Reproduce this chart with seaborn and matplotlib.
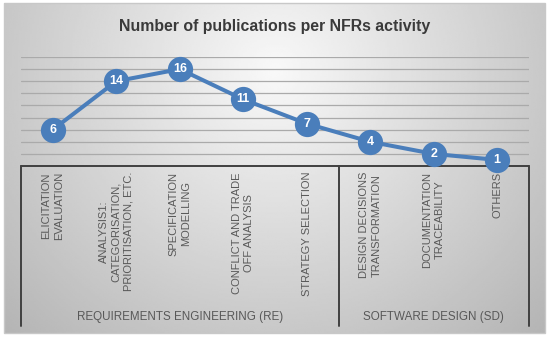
import numpy as np
import pandas as pd
import matplotlib.pyplot as plt
import seaborn as sns
from matplotlib.patches import Rectangle

# chart data
activities = [
    "ELICITATION\nEVALUATION",
    "ANALYSIS1:\nCATEGORISATION,\nPRIORITISATION, ETC.",
    "SPECIFICATION\nMODELLING",
    "CONFLICT AND TRADE\nOFF ANALYSIS",
    "STRATEGY SELECTION",
    "DESIGN DECISIONS\nTRANSFORMATION",
    "DOCUMENTATION\nTRACEABILITY",
    "OTHERS",
]
publications = [6, 14, 16, 11, 7, 4, 2, 1]
group_names = ["REQUIREMENTS ENGINEERING (RE)", "SOFTWARE DESIGN (SD)"]
group_sizes = [5, 3]
y_ticks = [2, 4, 6, 8, 10, 12, 14, 16, 18]

W, H = 550, 341
sns.set_theme(style="white")
plt.rcParams['font.family'] = ['Liberation Sans', 'DejaVu Sans']

fig = plt.figure(figsize=(W / 100, H / 100), dpi=100)

# background panel with radial grey gradient
bg = fig.add_axes([0, 0, 1, 1], zorder=-10)
bg.set_xlim(0, W)
bg.set_ylim(H, 0)
bg.axis("off")
x0, x1, y0, y1 = 4, 545, 3, 333
gx, gy = np.meshgrid(np.linspace(x0, x1, 300), np.linspace(y0, y1, 200))
r = np.sqrt(((gx - 275) / 300) ** 2 + ((gy - 70) / 290) ** 2)
shade = np.clip(0.975 - 0.21 * r, 0, 1)
bg.imshow(shade, cmap="gray", vmin=0, vmax=1, extent=(x0, x1, y1, y0),
          aspect="auto", interpolation="bilinear")
bg.add_patch(Rectangle((x0, y0), x1 - x0, y1 - y0, fill=False,
                       edgecolor="#c8c8c8", linewidth=1.0))

# plot area (pixel box: x 21..529, y 57..166)
left, right, top, bottom = 21, 529, 57, 166
ax = fig.add_axes([left / W, 1 - bottom / H, (right - left) / W, (bottom - top) / H])
ax.set_facecolor("none")

df = pd.DataFrame({"activity": activities, "count": publications})
blue = "#4a7ebb"
sns.pointplot(data=df, x="activity", y="count", color=blue, errorbar=None,
              markersize=16, linewidth=2.9, ax=ax)
for ln in ax.lines:
    ln.set_clip_on(False)
    ln.set_zorder(5)

for i, v in enumerate(publications):
    ax.text(i, v, str(v), ha="center", va="center", color="white",
            fontsize=9, fontweight="bold", zorder=6, clip_on=False)

ax.set_ylim(0, 18)
ax.set_xlim(-0.5, len(activities) - 0.5)
ax.set_yticks(y_ticks)
ax.yaxis.grid(True, color="#aaaaaa", linewidth=0.9)
ax.set_axisbelow(True)
ax.tick_params(left=False, bottom=False, labelleft=False, labelbottom=False)
ax.set_xlabel("")
ax.set_ylabel("")
for s in ax.spines.values():
    s.set_visible(False)

# multi-level category axis box
box_col = "#404040"
ax_h = bottom - top
line_bottom = (bottom - 326) / ax_h
ax.plot([-0.5, len(activities) - 0.5], [0, 0], color=box_col, lw=1.4,
        transform=ax.get_xaxis_transform(), clip_on=False, zorder=3)
edges = np.concatenate([[0], np.cumsum(group_sizes)]) - 0.5
for e in edges:
    ax.plot([e, e], [0, line_bottom], color=box_col, lw=1.4,
            transform=ax.get_xaxis_transform(), clip_on=False, zorder=3)

for i, lab in enumerate(activities):
    ax.text(i, (bottom - 172) / ax_h, lab, rotation=90, ha="center", va="top",
            multialignment="center", linespacing=1.3, fontsize=8,
            color="#595959", transform=ax.get_xaxis_transform(), clip_on=False)

for name, a, b in zip(group_names, edges[:-1], edges[1:]):
    ax.text((a + b) / 2, (bottom - 317) / ax_h, name, ha="center", va="center",
            fontsize=8.4, color="#595959", transform=ax.get_xaxis_transform(),
            clip_on=False)

fig.text(275 / W, 1 - 26 / H, "Number of publications per NFRs activity",
         ha="center", va="center", fontsize=11.4, fontweight="bold", color="#3a3a3a")

fig.savefig("out.png", dpi=100)
